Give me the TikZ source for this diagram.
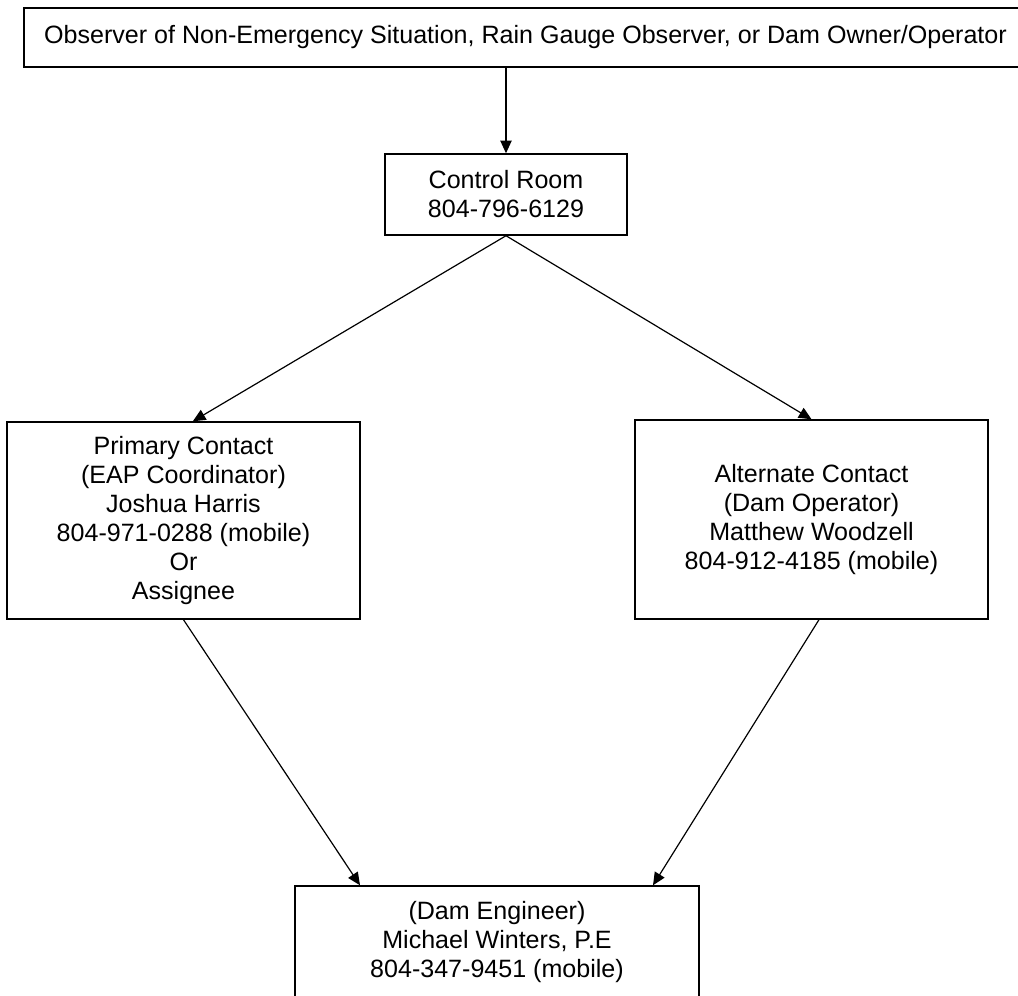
\documentclass[tikz,border=0pt]{standalone}
\usepackage{fontspec}
\setmainfont{Liberation Sans}
\usetikzlibrary{arrows.meta}
\begin{document}
\begin{tikzpicture}[x=0.75pt,y=-0.75pt,
  box/.style={draw,line width=1.1pt,align=center,inner sep=0pt,
    font=\fontsize{18.8pt}{21.8pt}\selectfont},
  conn/.style={line width=0.9pt,-{Triangle[length=9.5pt,width=8.5pt]}}]
\useasboundingbox (0,0) rectangle (1018,996);
\clip (0,0) rectangle (1018,996);
\node[box,minimum width=1003*0.75pt,minimum height=59*0.75pt] (top) at (525.5,37.5)
  {Observer of Non-Emergency Situation, Rain Gauge Observer, or Dam Owner/Operator};
\node[box,minimum width=242*0.75pt,minimum height=81*0.75pt] (cr) at (506,194.5)
  {Control Room\\804-796-6129};
\node[box,minimum width=353*0.75pt,minimum height=197*0.75pt] (pc) at (183.5,520.5)
  {Primary Contact\\(EAP Coordinator)\\Joshua Harris\\804-971-0288 (mobile)\\Or\\Assignee};
\node[box,minimum width=353*0.75pt,minimum height=199*0.75pt] (ac) at (811.5,519.5)
  {Alternate Contact\\(Dam Operator)\\Matthew Woodzell\\804-912-4185 (mobile)};
\node[box,minimum width=404*0.75pt,minimum height=112*0.75pt] (eng) at (497,942)
  {(Dam Engineer)\\Michael Winters, P.E\\804-347-9451 (mobile)};
\draw[conn] (top.south -| cr.north) -- (cr.north);
\draw[conn] (cr.south) -- ([xshift=7pt]pc.north);
\draw[conn] (cr.south) -- (ac.north);
\draw[conn] (pc.south) -- ([xshift=-102.75pt]eng.north);
\draw[conn] ([xshift=5.6pt]ac.south) -- ([xshift=117pt]eng.north);
\end{tikzpicture}
\end{document}
